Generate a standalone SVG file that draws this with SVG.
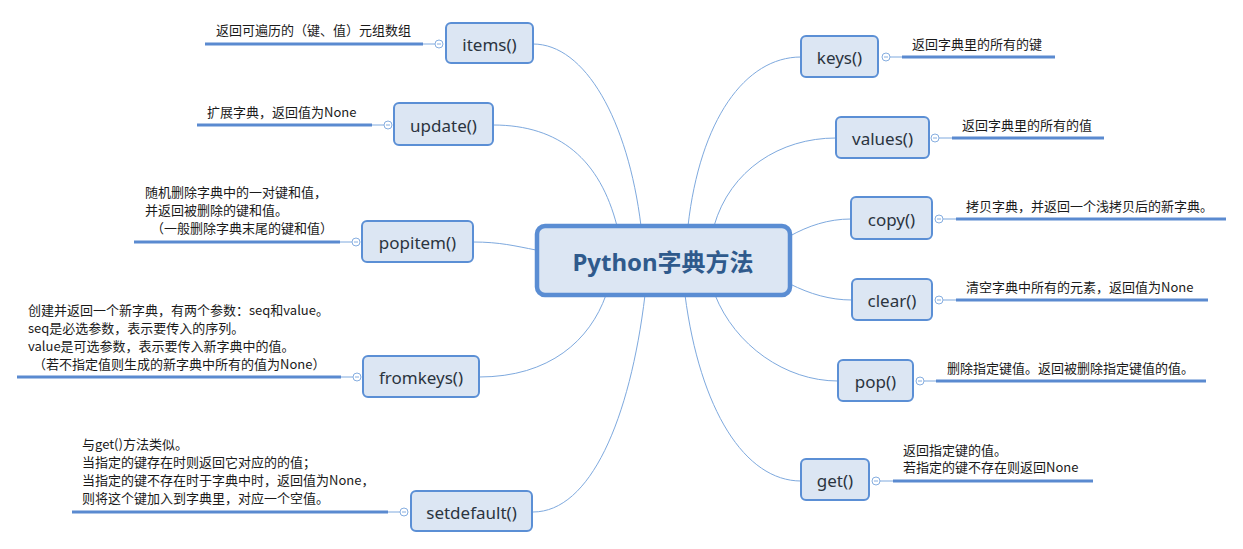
<svg xmlns="http://www.w3.org/2000/svg" width="1243" height="549" viewBox="0 0 1243 549">
<style>
.bg{fill:#ffffff}
.node rect{fill:#dce6f3;stroke:#5b8fd5;stroke-width:2}
.node text.lbl{font-family:"Noto Sans","Noto Sans CJK SC",sans-serif;font-size:17px;fill:#2b3440;text-anchor:middle;dominant-baseline:central}
.center rect{fill:#dce6f3;stroke:#5a8dd3;stroke-width:4.5}
.center text{font-family:"Noto Sans","Noto Sans CJK SC",sans-serif;font-size:24px;font-weight:bold;fill:#2f5a8c;text-anchor:middle;dominant-baseline:central}
.note{font-family:"Noto Sans CJK SC","Noto Sans",sans-serif;font-size:13px;fill:#1a1a1a}
.bar{stroke:#5a8ad0;stroke-width:3;fill:none}
.stem{stroke:#7ea9de;stroke-width:1;fill:none}
.tog{fill:#ffffff;stroke:#86aee0;stroke-width:1}
.minus{stroke:#86aee0;stroke-width:1}
.conn path{stroke:#7ea9de;stroke-width:1;fill:none}
</style>
<rect class="bg" x="0" y="0" width="1243" height="549"/>

<g id="connectors" class="conn">
<path d="M641,226 C628,120 585,44 533,44"/>
<path d="M617,226 C600,160 560,125 493,125"/>
<path d="M536,250 C515,246 500,242 473,242"/>
<path d="M606,295 C590,340 550,377 479,377"/>
<path d="M645,295 C630,420 590,512 533,512"/>
<path d="M688,226 C700,120 745,57 801,57"/>
<path d="M714,226 C730,170 780,138 836,138"/>
<path d="M790,236 C808,226 828,219 851,219"/>
<path d="M790,284 C810,294 830,300 852,300"/>
<path d="M715,295 C735,345 785,381 838,381"/>
<path d="M685,295 C700,410 745,481 801,481"/>
</g>

<g id="center" class="center">
<rect x="537" y="226" width="253" height="69" rx="8"/>
<text x="663" y="261">Python字典方法</text>
</g>

<g id="items" class="node">
<rect x="446" y="23" width="87" height="40" rx="5"/>
<text class="lbl" x="489.5" y="44">items()</text>
<line class="bar" x1="205" y1="44" x2="423" y2="44"/>
<line class="stem" x1="423" y1="44" x2="435" y2="44"/>
<circle class="tog" cx="439" cy="44" r="4"/><line class="minus" x1="437" y1="44" x2="441" y2="44"/>
<text class="note" x="216" y="35">返回可遍历的（键、值）元组数组</text>
</g>

<g id="update" class="node">
<rect x="394" y="103" width="99" height="42" rx="5"/>
<text class="lbl" x="443.5" y="125">update()</text>
<line class="bar" x1="197" y1="125" x2="372" y2="125"/>
<line class="stem" x1="372" y1="125" x2="384" y2="125"/>
<circle class="tog" cx="388" cy="125" r="4"/><line class="minus" x1="386" y1="125" x2="390" y2="125"/>
<text class="note" x="207" y="117">扩展字典，返回值为None</text>
</g>

<g id="popitem" class="node">
<rect x="362" y="221" width="111" height="41" rx="5"/>
<text class="lbl" x="417.5" y="242">popitem()</text>
<line class="bar" x1="134" y1="242" x2="340" y2="242"/>
<line class="stem" x1="340" y1="242" x2="352" y2="242"/>
<circle class="tog" cx="356" cy="242" r="4"/><line class="minus" x1="354" y1="242" x2="358" y2="242"/>
<text class="note" x="145" y="197">随机删除字典中的一对键和值，</text>
<text class="note" x="145" y="215">并返回被删除的键和值。</text>
<text class="note" x="151" y="233">（一般删除字典末尾的键和值）</text>
</g>

<g id="fromkeys" class="node">
<rect x="363" y="356" width="116" height="41" rx="5"/>
<text class="lbl" x="421" y="377">fromkeys()</text>
<line class="bar" x1="17" y1="377" x2="341" y2="377"/>
<line class="stem" x1="341" y1="377" x2="353" y2="377"/>
<circle class="tog" cx="357" cy="377" r="4"/><line class="minus" x1="355" y1="377" x2="359" y2="377"/>
<text class="note" x="28" y="315">创建并返回一个新字典，有两个参数：seq和value。</text>
<text class="note" x="28" y="333">seq是必选参数，表示要传入的序列。</text>
<text class="note" x="28" y="351">value是可选参数，表示要传入新字典中的值。</text>
<text class="note" x="33" y="369">（若不指定值则生成的新字典中所有的值为None）</text>
</g>

<g id="setdefault" class="node">
<rect x="411" y="491" width="121" height="40" rx="5"/>
<text class="lbl" x="471.5" y="512">setdefault()</text>
<line class="bar" x1="72" y1="512" x2="388" y2="512"/>
<line class="stem" x1="388" y1="512" x2="400" y2="512"/>
<circle class="tog" cx="404" cy="512" r="4"/><line class="minus" x1="402" y1="512" x2="406" y2="512"/>
<text class="note" x="82" y="449">与get()方法类似。</text>
<text class="note" x="82" y="467">当指定的键存在时则返回它对应的的值；</text>
<text class="note" x="82" y="485">当指定的键不存在时于字典中时，返回值为None，</text>
<text class="note" x="82" y="503">则将这个键加入到字典里，对应一个空值。</text>
</g>

<g id="keys" class="node">
<rect x="801" y="36" width="77" height="41" rx="5"/>
<text class="lbl" x="839.5" y="57">keys()</text>
<line class="stem" x1="890" y1="57" x2="902" y2="57"/>
<line class="bar" x1="902" y1="57" x2="1055" y2="57"/>
<circle class="tog" cx="886" cy="57" r="4"/><line class="minus" x1="884" y1="57" x2="888" y2="57"/>
<text class="note" x="912" y="49">返回字典里的所有的键</text>
</g>

<g id="values" class="node">
<rect x="836" y="117" width="93" height="41" rx="5"/>
<text class="lbl" x="882.5" y="138">values()</text>
<line class="stem" x1="939" y1="138" x2="952" y2="138"/>
<line class="bar" x1="952" y1="138" x2="1104" y2="138"/>
<circle class="tog" cx="935" cy="138" r="4"/><line class="minus" x1="933" y1="138" x2="937" y2="138"/>
<text class="note" x="962" y="130">返回字典里的所有的值</text>
</g>

<g id="copy" class="node">
<rect x="851" y="197" width="81" height="42" rx="5"/>
<text class="lbl" x="891.5" y="219">copy()</text>
<line class="stem" x1="943" y1="219" x2="956" y2="219"/>
<line class="bar" x1="956" y1="219" x2="1226" y2="219"/>
<circle class="tog" cx="939" cy="219" r="4"/><line class="minus" x1="937" y1="219" x2="941" y2="219"/>
<text class="note" x="966" y="211">拷贝字典，并返回一个浅拷贝后的新字典。</text>
</g>

<g id="clear" class="node">
<rect x="852" y="279" width="80" height="41" rx="5"/>
<text class="lbl" x="892" y="300">clear()</text>
<line class="stem" x1="943" y1="300" x2="956" y2="300"/>
<line class="bar" x1="956" y1="300" x2="1208" y2="300"/>
<circle class="tog" cx="939" cy="300" r="4"/><line class="minus" x1="937" y1="300" x2="941" y2="300"/>
<text class="note" x="966" y="292">清空字典中所有的元素，返回值为None</text>
</g>

<g id="pop" class="node">
<rect x="838" y="360" width="75" height="41" rx="5"/>
<text class="lbl" x="875.5" y="381">pop()</text>
<line class="stem" x1="924" y1="381" x2="936" y2="381"/>
<line class="bar" x1="936" y1="381" x2="1206" y2="381"/>
<circle class="tog" cx="920" cy="381" r="4"/><line class="minus" x1="918" y1="381" x2="922" y2="381"/>
<text class="note" x="947" y="373">删除指定键值。返回被删除指定键值的值。</text>
</g>

<g id="get" class="node">
<rect x="801" y="459" width="68" height="41" rx="5"/>
<text class="lbl" x="835" y="480">get()</text>
<line class="stem" x1="880" y1="481" x2="893" y2="481"/>
<line class="bar" x1="893" y1="481" x2="1093" y2="481"/>
<circle class="tog" cx="876" cy="481" r="4"/><line class="minus" x1="874" y1="481" x2="878" y2="481"/>
<text class="note" x="903" y="455">返回指定键的值。</text>
<text class="note" x="903" y="472">若指定的键不存在则返回None</text>
</g>
</svg>
